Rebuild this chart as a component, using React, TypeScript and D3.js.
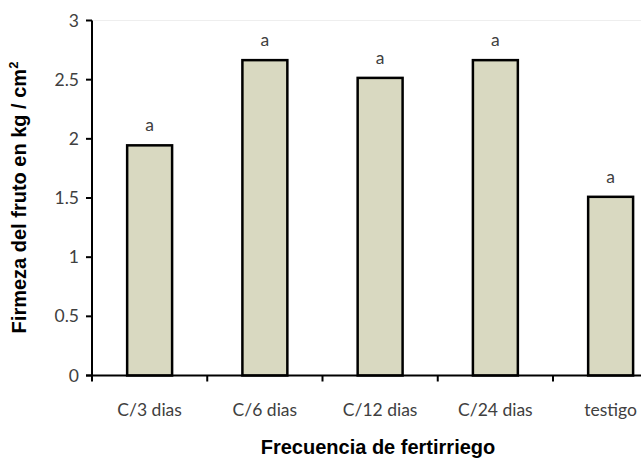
import React from "react";
import * as d3 from "d3";

const categories = ["C/3 dias", "C/6 dias", "C/12 dias", "C/24 dias", "testigo"];
const values = [1.945, 2.665, 2.515, 2.665, 1.51];
const letters = ["a", "a", "a", "a", "a"];
const yTicks = [0, 0.5, 1, 1.5, 2, 2.5, 3];

export default function App() {
  const W = 641, H = 459;
  const x0 = 92, y0 = 375.5, yTop = 20.5;
  const band = 115.25;
  const x = d3.scaleBand<string>().domain(categories).range([x0, x0 + band * categories.length]).paddingInner(0.61).paddingOuter(0.305);
  const y = d3.scaleLinear().domain([0, 3]).range([y0, yTop]);
  const tickFont = "Lato, 'Open Sans', sans-serif";
  const titleFont = "'Liberation Sans', Arial, sans-serif";
  const bw = x.bandwidth();
  return (
    <svg width={W} height={H} style={{ position: "absolute", left: 0, top: 0, background: "#fff" }}>
      <line x1={x0} x2={W} y1={yTop} y2={yTop} stroke="#eeeeee" strokeWidth={1} />
      {categories.map((c, i) => (
        <g key={c}>
          <rect x={x(c)!} y={y(values[i])} width={bw} height={y0 - y(values[i])} fill="#d9d9c1" stroke="#000" strokeWidth={2.5} />
          <text x={x(c)! + bw / 2} y={y(values[i]) - 14} textAnchor="middle" fontFamily={tickFont} fontSize={17.5} fill="#404040">{letters[i]}</text>
          <text x={x(c)! + bw / 2} y={416} textAnchor="middle" fontFamily={tickFont} fontSize={17.5} fill="#404040">{c}</text>
        </g>
      ))}
      {/* y axis */}
      <line x1={x0} x2={x0} y1={yTop} y2={y0 + 1} stroke="#000" strokeWidth={2} />
      {yTicks.map(t => (
        <g key={t}>
          <line x1={x0 - 6} x2={x0} y1={y(t)} y2={y(t)} stroke="#000" strokeWidth={2} />
          <text x={x0 - 13} y={y(t) + 6} textAnchor="end" fontFamily={tickFont} fontSize={17.5} fill="#404040">{t}</text>
        </g>
      ))}
      {/* x axis */}
      <line x1={x0 - 6} x2={W} y1={y0} y2={y0} stroke="#000" strokeWidth={2} />
      {categories.map((c, i) => (
        <line key={"t" + i} x1={x0 + band * i} x2={x0 + band * i} y1={y0} y2={y0 + 6} stroke="#000" strokeWidth={2} />
      ))}
      <text x={378} y={454} textAnchor="middle" fontFamily={titleFont} fontWeight="bold" fontSize={20} fill="#000">Frecuencia de fertirriego</text>
      <text transform={`translate(26,${(58 + 337) / 2}) rotate(-90)`} textAnchor="middle" fontFamily={titleFont} fontWeight="bold" fontSize={20} fill="#000">
        Firmeza del fruto en kg / cm<tspan fontSize={13} dy={-8}>2</tspan>
      </text>
    </svg>
  );
}
